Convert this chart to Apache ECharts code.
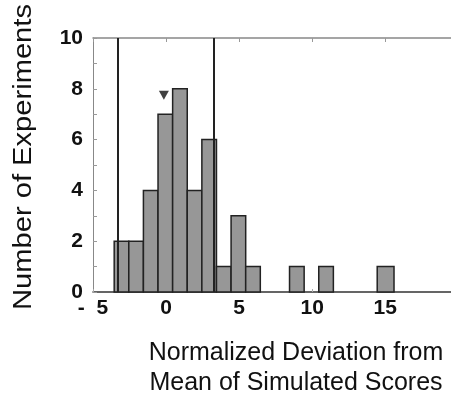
<!DOCTYPE html>
<html>
<head>
<meta charset="utf-8">
<script src="https://cdn.jsdelivr.net/npm/echarts@6/dist/echarts.min.js"></script>
<style>
  html, body { margin: 0; padding: 0; background: #fff; }
  #chart { width: 451px; height: 407px; }
</style>
</head>
<body>
<div id="chart"></div>
<script>
// histogram bins (left edge, right edge, count)
var binStart = [-3.55, -2.55, -1.55, -0.55, 0.45, 1.45, 2.45, 3.45, 4.45, 5.45, 8.45, 10.45, 14.45];
var binEnd   = [-2.55, -1.55, -0.55, 0.45, 1.45, 2.45, 3.45, 4.45, 5.45, 6.45, 9.45, 11.45, 15.6];
var counts   = [2, 2, 4, 7, 8, 4, 6, 1, 3, 1, 1, 1, 1];

// vertical threshold lines and the mean marker
var thresholds = [-3.3, 3.25];
var meanMarker = [-0.15, 7.75];

var xTicks = [-5, 0, 5, 10, 15];
var yTicks = [0, 2, 4, 6, 8, 10];

var font = '"Liberation Sans", Arial, Helvetica, sans-serif';

var chart = echarts.init(document.getElementById('chart'));

var bins = binStart.map(function (s, i) {
    return [s, binEnd[i], counts[i]];
});

var option = {
    animation: false,
    grid: { left: 93, top: 38, right: 0, bottom: 115, containLabel: false },
    xAxis: [
        {
            type: 'value',
            min: -5,
            max: 19.5,
            interval: 5,
            splitLine: { show: false },
            axisLine: { show: true, onZero: false, lineStyle: { color: '#333', width: 1.5 } },
            axisTick: { show: true, inside: true, length: 3, lineStyle: { color: '#aaa' } },
            axisLabel: {
                margin: 6,
                fontFamily: font,
                fontWeight: 'bold',
                fontSize: 21,
                color: '#111',
                showMaxLabel: false,
                formatter: function (v) {
                    if (xTicks.indexOf(v) < 0) return '';
                    return v < 0 ? '-  ' + Math.abs(v) : '' + v;
                }
            }
        },
        {
            type: 'value',
            position: 'top',
            min: -5,
            max: 19.5,
            interval: 5,
            splitLine: { show: false },
            axisLine: { show: true, onZero: false, lineStyle: { color: '#888', width: 1.5 } },
            axisTick: { show: true, inside: true, length: 4, lineStyle: { color: '#999' } },
            axisLabel: { show: false }
        }
    ],
    yAxis: {
        type: 'value',
        min: 0,
        max: 10,
        interval: 1,
        splitLine: { show: false },
        axisLine: { show: true, onZero: false, lineStyle: { color: '#888', width: 1 } },
        axisTick: { show: true, inside: true, length: 4, lineStyle: { color: '#999' } },
        axisLabel: {
            margin: 10,
            fontFamily: font,
            fontWeight: 'bold',
            fontSize: 21,
            color: '#111',
            formatter: function (v) {
                return yTicks.indexOf(v) >= 0 ? '' + v : '';
            }
        }
    },
    graphic: [
        {
            type: 'text',
            x: 24,
            y: 157,
            rotation: Math.PI / 2,
            scaleX: 1.12,
            style: {
                text: 'Number of Experiments',
                fontFamily: font,
                fontSize: 26,
                fill: '#111',
                align: 'center',
                verticalAlign: 'middle'
            }
        },
        {
            type: 'text',
            x: 296,
            y: 338,
            style: {
                text: 'Normalized Deviation from\nMean of Simulated Scores',
                fontFamily: font,
                fontSize: 25,
                lineHeight: 30,
                fill: '#111',
                align: 'center',
                verticalAlign: 'top'
            }
        }
    ],
    series: [
        {
            type: 'custom',
            data: bins,
            renderItem: function (params, api) {
                var p0 = api.coord([api.value(0), api.value(2)]);
                var p1 = api.coord([api.value(1), 0]);
                return {
                    type: 'rect',
                    shape: { x: p0[0], y: p0[1], width: p1[0] - p0[0], height: p1[1] - p0[1] },
                    style: { fill: '#979797', stroke: '#222', lineWidth: 1.5 }
                };
            },
            z: 2
        },
        {
            type: 'line',
            data: [],
            markLine: {
                silent: true,
                symbol: 'none',
                label: { show: false },
                lineStyle: { color: '#222', width: 2, type: 'solid' },
                data: thresholds.map(function (t) { return { xAxis: t }; })
            },
            z: 3
        },
        {
            type: 'scatter',
            data: [meanMarker],
            symbol: 'triangle',
            symbolRotate: 180,
            symbolSize: [10, 9],
            itemStyle: { color: '#111' },
            z: 4
        }
    ]
};

chart.setOption(option);
</script>
</body>
</html>
